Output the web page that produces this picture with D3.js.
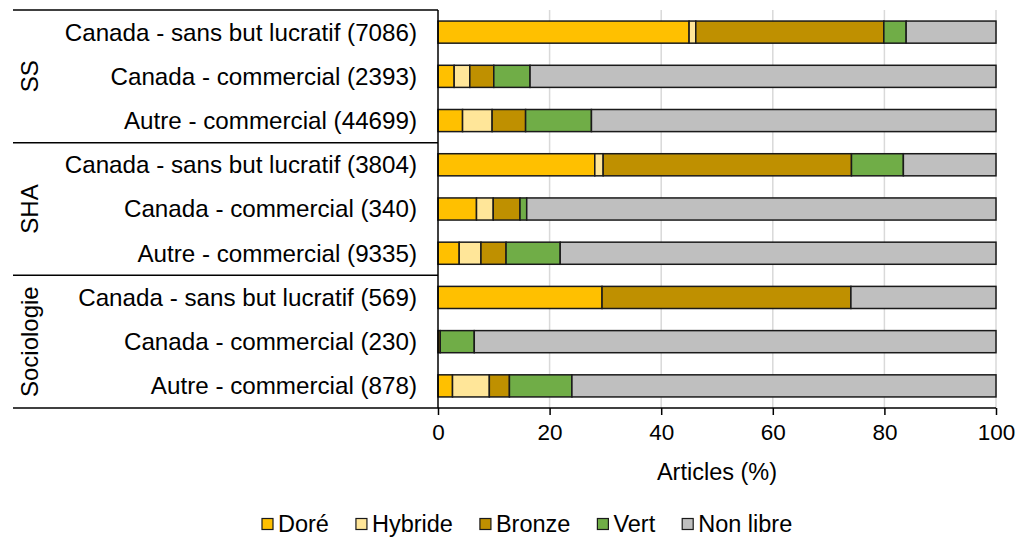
<!DOCTYPE html>
<html>
<head>
<meta charset="utf-8">
<script src="https://cdn.jsdelivr.net/npm/d3@7"></script>
<style>
  body { margin: 0; background: #fff; }
  text { font-family: "Liberation Sans", Arial, sans-serif; fill: #000; }
</style>
</head>
<body>
<svg id="chart" width="1023" height="538"></svg>
<script>
// categories (top to bottom)
const groups = ["SS", "SHA", "Sociologie"];
const rowLabels = [
  "Canada - sans but lucratif (7086)", "Canada - commercial (2393)", "Autre - commercial (44699)",
  "Canada - sans but lucratif (3804)", "Canada - commercial (340)", "Autre - commercial (9335)",
  "Canada - sans but lucratif (569)", "Canada - commercial (230)", "Autre - commercial (878)"
];
const seriesNames = ["Doré", "Hybride", "Bronze", "Vert", "Non libre"];
const seriesColors = ["#ffc000", "#ffe699", "#bf9000", "#70ad47", "#bfbfbf"];

// % of articles per row, one array per series
const dore     = [45.0, 2.9, 4.4, 28.1, 6.9, 3.8, 29.4, 0.0, 2.6];
const hybride  = [1.2, 2.8, 5.3, 1.5, 3.0, 3.9, 0.0, 0.0, 6.6];
const bronze   = [33.7, 4.3, 6.0, 44.5, 4.8, 4.5, 44.6, 0.4, 3.6];
const vert     = [4.0, 6.5, 11.8, 9.3, 1.2, 9.7, 0.0, 6.1, 11.2];
const nonLibre = [16.1, 83.5, 72.5, 16.6, 84.1, 78.1, 26.0, 93.5, 76.0];

const xTicks = [0, 20, 40, 60, 80, 100];

const seriesValues = [dore, hybride, bronze, vert, nonLibre];
const rows = rowLabels.map((label, i) => {
  const row = { label: label, idx: i };
  seriesNames.forEach((s, k) => { row[s] = seriesValues[k][i]; });
  return row;
});

const plotLeft = 438, plotRight = 996, plotTop = 10, plotBottom = 408;
const tableLeft = 13;
const svg = d3.select("#chart");

const x = d3.scaleLinear().domain([0, 100]).range([plotLeft, plotRight]);
const y = d3.scaleBand().domain(d3.range(rowLabels.length)).range([plotTop, plotBottom]).paddingInner(0.5).paddingOuter(0.25);
const color = d3.scaleOrdinal().domain(seriesNames).range(seriesColors);

// grid
svg.append("g")
  .selectAll("line")
  .data(xTicks.slice(1))
  .join("line")
  .attr("x1", d => x(d)).attr("x2", d => x(d))
  .attr("y1", plotTop).attr("y2", plotBottom)
  .attr("stroke", "#d9d9d9")
  .attr("stroke-width", 1.5);

// stacked bars
const stacked = d3.stack().keys(seriesNames)(rows);
svg.append("g")
  .selectAll("g")
  .data(stacked)
  .join("g")
  .attr("fill", d => color(d.key))
  .selectAll("rect")
  .data(d => d.filter(p => p[1] - p[0] > 0))
  .join("rect")
  .attr("x", d => x(d[0]))
  .attr("width", d => x(d[1]) - x(d[0]))
  .attr("y", d => y(d.data.idx))
  .attr("height", y.bandwidth())
  .attr("stroke", "#1a1a1a")
  .attr("stroke-width", 1.5);

// x axis
const xAxis = svg.append("g")
  .attr("transform", `translate(0,${plotBottom})`)
  .call(d3.axisBottom(x).tickValues(xTicks).tickSize(7).tickPadding(9));
xAxis.select(".domain").remove();
xAxis.selectAll(".tick line").attr("stroke", "#000").attr("stroke-width", 1.5);
xAxis.selectAll(".tick text")
  .attr("font-family", "Liberation Sans, Arial, sans-serif")
  .attr("font-size", 22.5)
  .attr("fill", "#000");

svg.append("text")
  .attr("x", (plotLeft + plotRight) / 2)
  .attr("y", 480)
  .attr("text-anchor", "middle")
  .attr("font-size", 23.5)
  .text("Articles (%)");

// left table: lines
const groupEdges = [plotTop, plotTop + (plotBottom - plotTop) / 3, plotTop + 2 * (plotBottom - plotTop) / 3, plotBottom];
svg.append("g")
  .selectAll("line")
  .data(groupEdges)
  .join("line")
  .attr("x1", tableLeft)
  .attr("x2", (d, i) => i === groupEdges.length - 1 ? plotRight : plotLeft)
  .attr("y1", d => d).attr("y2", d => d)
  .attr("stroke", "#000")
  .attr("stroke-width", 1.5);

svg.append("line")
  .attr("x1", plotLeft).attr("x2", plotLeft)
  .attr("y1", plotTop).attr("y2", plotBottom)
  .attr("stroke", "#000")
  .attr("stroke-width", 1.5);

// row labels
svg.append("g")
  .selectAll("text")
  .data(rowLabels)
  .join("text")
  .attr("x", 417)
  .attr("y", (d, i) => y(i) + y.bandwidth() / 2)
  .attr("dy", "0.35em")
  .attr("text-anchor", "end")
  .attr("font-size", 24.2)
  .text(d => d);

// group labels, rotated
svg.append("g")
  .selectAll("text")
  .data(groups)
  .join("text")
  .attr("transform", (d, i) => `translate(30,${(groupEdges[i] + groupEdges[i + 1]) / 2}) rotate(-90)`)
  .attr("dy", "0.35em")
  .attr("text-anchor", "middle")
  .attr("font-size", 24)
  .text(d => d);

// legend
const legend = svg.append("g").attr("transform", "translate(262,524)");
let lx = 0;
seriesNames.forEach((name, i) => {
  const item = legend.append("g").attr("transform", `translate(${lx},0)`);
  item.append("rect")
    .attr("x", 0).attr("y", -5.5)
    .attr("width", 11).attr("height", 11)
    .attr("fill", color(name))
    .attr("stroke", "#1a1a1a")
    .attr("stroke-width", 1.2);
  const t = item.append("text")
    .attr("x", 16)
    .attr("dy", "0.35em")
    .attr("font-size", 23.5)
    .text(name);
  lx += 16 + t.node().getComputedTextLength() + 27;
});
</script>
</body>
</html>
